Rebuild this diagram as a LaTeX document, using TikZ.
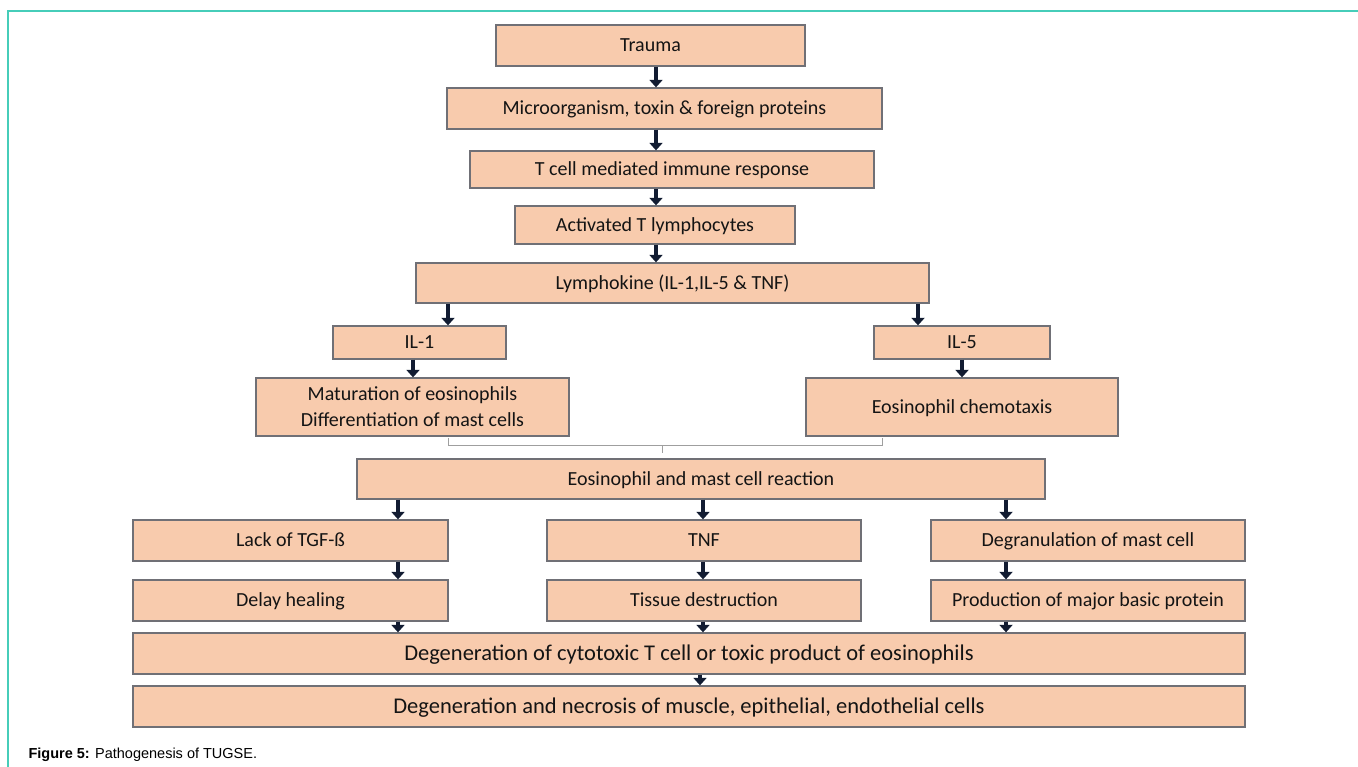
\documentclass[tikz,border=0pt]{standalone}
\usepackage{fontspec}
\setmainfont{Carlito}
\newfontfamily\capfont{Liberation Sans}
\usetikzlibrary{arrows.meta}
\definecolor{peach}{RGB}{248,203,173}
\definecolor{boxline}{RGB}{112,112,118}
\definecolor{arrowblue}{RGB}{18,28,50}
\definecolor{frameteal}{RGB}{70,205,185}
\definecolor{inktext}{RGB}{20,20,20}

\begin{document}
\begin{tikzpicture}[x=1pt,y=-1pt,
  panel/.style={draw=boxline,line width=1.3pt,fill=peach,inner sep=0pt,align=center,
    text=inktext,font=\fontsize{20}{26}\selectfont},
  stage/.style={panel,text height=14pt,text depth=1.5pt},
  bigstage/.style={panel,font=\fontsize{22.5}{27}\selectfont,text height=16pt,text depth=1.7pt},
  arr/.style={draw=arrowblue,line width=4pt,-{Triangle[width=13pt,length=7.5pt]}},
  brace/.style={draw=gray!75,line width=0.9pt}]
  \useasboundingbox (0,0) rectangle (1358,767);
  \draw[frameteal,line width=2pt] (1358,10.7) -| (8.3,767);

  % upper chain
  \node[stage,minimum width=309pt,minimum height=41pt] (trauma) at (650.5,45.5) {Trauma};
  \node[stage,minimum width=435pt,minimum height=41pt] (micro) at (664.5,108.5) {Microorganism, toxin \& foreign proteins};
  \node[stage,minimum width=404pt,minimum height=37pt] (tcell) at (672,169.5) {T cell mediated immune response};
  \node[stage,minimum width=280pt,minimum height=38pt] (activ) at (655,225) {Activated T lymphocytes};
  \node[stage,minimum width=513pt,minimum height=40pt] (lympho) at (672.5,283) {Lymphokine (IL-1,IL-5 \& TNF)};

  % two branches
  \node[stage,minimum width=173pt,minimum height=33pt] (ilone) at (419.5,342.5) {IL-1};
  \node[stage,minimum width=176pt,minimum height=33pt] (ilfive) at (962,342.5) {IL-5};
  \node[panel,minimum width=313pt,minimum height=58pt] (matur) at (412.5,407) {Maturation of eosinophils\\Differentiation of mast cells};
  \node[stage,minimum width=312pt,minimum height=58pt] (chemo) at (962,407) {Eosinophil chemotaxis};

  \node[stage,minimum width=688pt,minimum height=40pt] (react) at (701,479) {Eosinophil and mast cell reaction};

  % three columns
  \node[stage,minimum width=315pt,minimum height=41pt] (lack) at (290.5,540.5) {Lack of TGF-ß};
  \node[stage,minimum width=314pt,minimum height=41pt] (tnf) at (704,540.5) {TNF};
  \node[stage,minimum width=314pt,minimum height=41pt] (degran) at (1088,540.5) {Degranulation of mast cell};
  \node[stage,minimum width=315pt,minimum height=41pt] (delay) at (290.5,600.5) {Delay healing};
  \node[stage,minimum width=314pt,minimum height=41pt] (tissue) at (704,600.5) {Tissue destruction};
  \node[stage,minimum width=314pt,minimum height=41pt] (mbp) at (1088,600.5) {Production of major basic protein};

  \node[bigstage,minimum width=1112pt,minimum height=41pt] (degen) at (689,653.5) {Degeneration of cytotoxic T cell or toxic product of eosinophils};
  \node[bigstage,minimum width=1112pt,minimum height=41pt] (necro) at (689,706.5) {Degeneration and necrosis of muscle, epithelial, endothelial cells};

  \node[anchor=base west,font=\capfont\fontsize{14.5}{17}\selectfont] (caption) at (25,758) {\textbf{Figure 5:} Pathogenesis of TUGSE.};

  % arrows
  \draw[arr] (trauma.south -| 656,0) -- (micro.north -| 656,0);
  \draw[arr] (micro.south -| 656,0) -- (tcell.north -| 656,0);
  \draw[arr] (tcell.south -| 656,0) -- (activ.north -| 656,0);
  \draw[arr] (activ.south -| 656,0) -- (lympho.north -| 656,0);
  \draw[arr] (lympho.south -| 448,0) -- (ilone.north -| 448,0);
  \draw[arr] (lympho.south -| 918,0) -- (ilfive.north -| 918,0);
  \draw[arr] (ilone.south -| 413,0) -- (matur.north -| 413,0);
  \draw[arr] (ilfive.south -| 962,0) -- (chemo.north -| 962,0);
  \draw[arr] (react.south -| 398,0) -- (lack.north -| 398,0);
  \draw[arr] (react.south -| 703,0) -- (tnf.north -| 703,0);
  \draw[arr] (react.south -| 1006,0) -- (degran.north -| 1006,0);
  \draw[arr] (lack.south -| 398,0) -- (delay.north -| 398,0);
  \draw[arr] (tnf.south -| 703,0) -- (tissue.north -| 703,0);
  \draw[arr] (degran.south -| 1006,0) -- (mbp.north -| 1006,0);
  \draw[arr] (delay.south -| 398,0) -- (degen.north -| 398,0);
  \draw[arr] (tissue.south -| 703,0) -- (degen.north -| 703,0);
  \draw[arr] (mbp.south -| 1006,0) -- (degen.north -| 1006,0);
  \draw[arr] (degen.south -| 700,0) -- (necro.north -| 700,0);

  % bracket joining the branches
  \coordinate (brl) at (448,438);
  \coordinate (brr) at (882,438);
  \coordinate (brm) at (662,445);
  \draw[brace] (brl) -- ++(0,7) -| (brr);
  \draw[brace] (brm) -- ++(0,8);
\end{tikzpicture}
\end{document}
